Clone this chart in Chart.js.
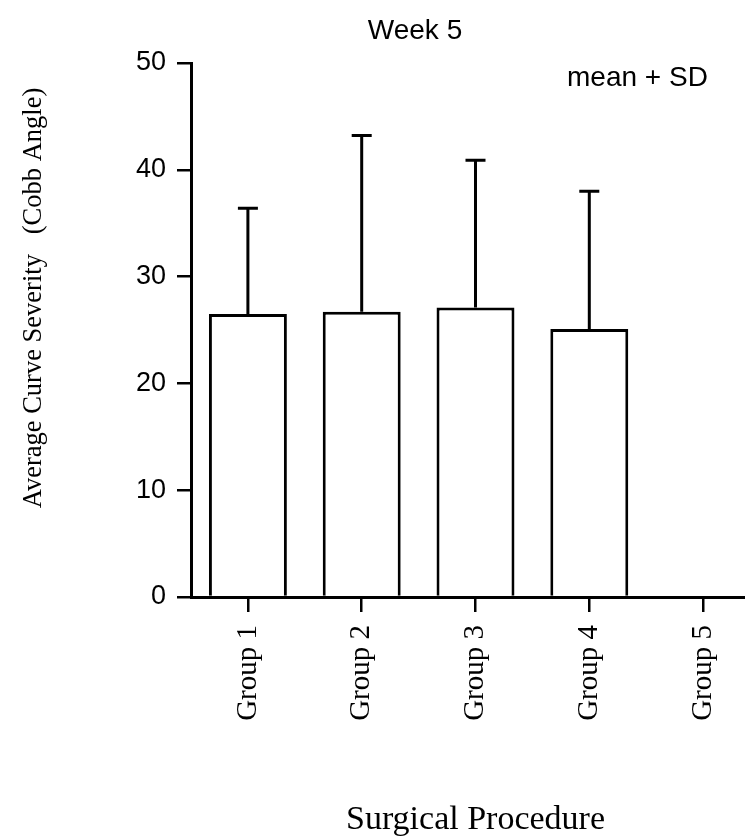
<!DOCTYPE html>
<html>
<head>
<meta charset="utf-8">
<script src="https://cdn.jsdelivr.net/npm/chart.js@4/dist/chart.umd.min.js"></script>
<style>
  html, body { margin: 0; padding: 0; background: #fff; overflow: hidden; }
  canvas { display: block; }
</style>
</head>
<body>
<canvas id="c" width="760" height="840" style="width:760px;height:840px"></canvas>
<script>
// ---- data ----
const categories = ["Group 1", "Group 2", "Group 3", "Group 4", "Group 5"];
const meanValues = [26.5, 26.7, 27.1, 25.1, null];
const sdValues   = [9.9, 16.5, 13.8, 12.9, null];
const yTicks     = [0, 10, 20, 30, 40, 50];
const chartTitle = "Week 5";
const noteText   = "mean + SD";
const yTitle     = "Average Curve Severity   (Cobb Angle)";
const xTitle     = "Surgical Procedure";

const errorBars = {
  id: 'errorBars',
  afterDatasetsDraw(chart) {
    const ctx = chart.ctx;
    const xs = chart.scales.x, ys = chart.scales.y;
    ctx.save();
    ctx.strokeStyle = '#000';
    ctx.lineWidth = 3;
    meanValues.forEach((m, i) => {
      const sd = sdValues[i];
      if (m == null || sd == null) return;
      const x = xs.getPixelForValue(i);
      const yb = ys.getPixelForValue(m);
      const yt = ys.getPixelForValue(m + sd);
      ctx.beginPath();
      ctx.moveTo(x, yb);
      ctx.lineTo(x, yt);
      ctx.moveTo(x - 10, yt);
      ctx.lineTo(x + 10, yt);
      ctx.stroke();
    });
    ctx.restore();
  }
};

const annotations = {
  id: 'annotations',
  afterDraw(chart) {
    const ctx = chart.ctx;
    ctx.save();
    ctx.fillStyle = '#000';
    ctx.font = '28px "Liberation Sans", Arial, sans-serif';
    ctx.textAlign = 'center';
    ctx.textBaseline = 'alphabetic';
    ctx.fillText(chartTitle, 415, 39);
    ctx.font = '28px "Liberation Sans", Arial, sans-serif';
    ctx.textAlign = 'left';
    ctx.fillText(noteText, 567, 86);
    ctx.translate(34, 298);
    ctx.rotate(-Math.PI / 2);
    ctx.font = '26.5px "Liberation Serif", "Times New Roman", serif';
    ctx.textAlign = 'center';
    ctx.textBaseline = 'middle';
    ctx.fillText(yTitle, 0, 0);
    ctx.restore();
  }
};

new Chart(document.getElementById('c'), {
  type: 'bar',
  data: {
    labels: categories,
    datasets: [{
      data: meanValues,
      backgroundColor: '#fff',
      borderColor: '#000',
      borderWidth: 3,
      barPercentage: 0.685,
      categoryPercentage: 1.0
    }]
  },
  options: {
    responsive: false,
    animation: false,
    devicePixelRatio: 1,
    layout: { padding: { top: 63, left: 0, right: 0, bottom: 0 } },
    plugins: {
      legend: { display: false },
      tooltip: { enabled: false },
      title: { display: false }
    },
    scales: {
      x: {
        offset: true,
        border: { display: true, color: '#000', width: 3 },
        grid: { display: true, offset: false, drawOnChartArea: false, drawTicks: true, tickLength: 15, color: '#000', lineWidth: 2.5 },
        ticks: {
          color: '#000',
          maxRotation: 90, minRotation: 90,
          padding: 13,
          font: { family: '"Liberation Serif", "Times New Roman", serif', size: 29 }
        },
        title: {
          display: true,
          text: xTitle,
          color: '#000',
          padding: { top: 0, bottom: 0 },
          font: { family: '"Liberation Serif", "Times New Roman", serif', size: 34, lineHeight: 1.2 }
        },
        afterFit(scale) { scale.height = 243; }
      },
      y: {
        min: 0, max: 50,
        afterBuildTicks(scale) { scale.ticks = yTicks.map(v => ({ value: v })); },
        border: { display: true, color: '#000', width: 3 },
        grid: { display: true, drawOnChartArea: false, drawTicks: true, tickLength: 14, color: '#000', lineWidth: 2.5 },
        ticks: {
          color: '#000',
          padding: 11,
          font: { family: '"Liberation Sans", Arial, sans-serif', size: 27 }
        },
        afterFit(scale) { scale.width = 191; }
      }
    }
  },
  plugins: [errorBars, annotations]
});
</script>
</body>
</html>
